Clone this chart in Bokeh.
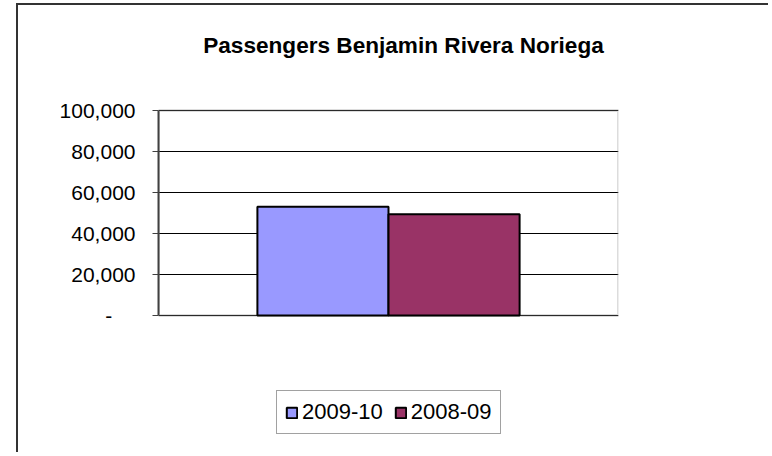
from bokeh.plotting import figure
from bokeh.models import (ColumnDataSource, FactorRange, Range1d, NumeralTickFormatter, Legend,
                          LegendItem, FixedTicker, BoxAnnotation, Label)
from bokeh.transform import dodge
from bokeh.embed import file_html
from bokeh.resources import INLINE

category = ["Passengers"]
series_names = ["2009-10", "2008-09"]
values_2009_10 = [53000]
values_2008_09 = [49400]
colors = ["#9999FF", "#993366"]
y_ticks = [0, 20000, 40000, 60000, 80000, 100000]
title_text = "Passengers Benjamin Rivera Noriega"

# layout (pixels): frame spans whole interior; value axis occupies a band of it
W, H = 752, 449
LEFT, RIGHT, TOP, BOTTOM = 140, 152, 5, 4
FRAME_H = H - TOP - BOTTOM
AX_TOP, AX_BOTTOM = 100, 305          # pixel rows (from frame top) of max / zero
vmin, vmax = y_ticks[0], y_ticks[-1]
ppu = (AX_BOTTOM - AX_TOP) / (vmax - vmin)
y_end = vmax + AX_TOP / ppu
y_start = vmin - (FRAME_H - AX_BOTTOM) / ppu

src = ColumnDataSource(dict(cat=category, a=values_2009_10, b=values_2008_09))

p = figure(width=W, height=H, x_range=FactorRange(*category, range_padding=0),
           y_range=Range1d(y_start, y_end), output_backend="svg", toolbar_location=None,
           min_border_left=LEFT, min_border_right=RIGHT, min_border_top=TOP, min_border_bottom=BOTTOM)
p.styles = {"border-left": "2px solid #333333", "border-top": "2px solid #333333",
            "margin-left": "16px", "margin-top": "3px"}
p.outline_line_color = None

p.xaxis.visible = False
p.xgrid.visible = False
p.ygrid.grid_line_color = "black"
p.ygrid.grid_line_width = 1
p.ygrid.bounds = (vmin, vmax)
p.ygrid.ticker = FixedTicker(ticks=y_ticks)

box = BoxAnnotation(left=0, right=1, bottom=vmin, top=vmax, fill_alpha=0, fill_color=None,
                    line_color="#8c8c8c", line_width=3, level="underlay")
p.add_layout(box)

bw = 0.285
r1 = p.vbar(x=dodge("cat", -bw / 2, range=p.x_range), top="a", width=bw, source=src,
            fill_color=colors[0], line_color="black", line_width=2)
r2 = p.vbar(x=dodge("cat", bw / 2, range=p.x_range), top="b", width=bw, source=src,
            fill_color=colors[1], line_color="black", line_width=2)

p.yaxis.bounds = (vmin, vmax)
p.yaxis.ticker = FixedTicker(ticks=y_ticks)
p.yaxis.formatter = NumeralTickFormatter(format="0,0")
p.yaxis.major_label_overrides = {0: "-\u00a0\u00a0\u00a0\u00a0"}
p.yaxis.major_label_text_font = "Liberation Sans"
p.yaxis.major_label_text_font_size = "21px"
p.yaxis.major_label_text_color = "black"
p.yaxis.major_label_standoff = 17
p.yaxis.axis_line_color = "#404040"
p.yaxis.axis_line_width = 2
p.yaxis.major_tick_out = 6
p.yaxis.major_tick_in = 0
p.yaxis.major_tick_line_color = "#404040"
p.yaxis.minor_tick_line_color = None

p.title.visible = False
title = Label(x=245, y=FRAME_H - 35, x_units="screen", y_units="screen", text=title_text,
              text_align="center", text_baseline="alphabetic", text_font="Liberation Sans",
              text_font_size="22.6px", text_font_style="bold", text_color="black")
p.add_layout(title)

legend = Legend(items=[LegendItem(label=series_names[0], renderers=[r1]),
                       LegendItem(label=series_names[1], renderers=[r2])],
                orientation="horizontal", location=(118, 16),
                label_text_font="Liberation Sans", label_text_font_size="22px",
                label_text_color="black",
                glyph_width=13, glyph_height=13, label_standoff=4, spacing=11,
                padding=8, margin=0, border_line_color="#444444", border_line_width=1,
                label_height=19)
p.add_layout(legend, "center")

open("out.html", "w").write(file_html(p, INLINE))
